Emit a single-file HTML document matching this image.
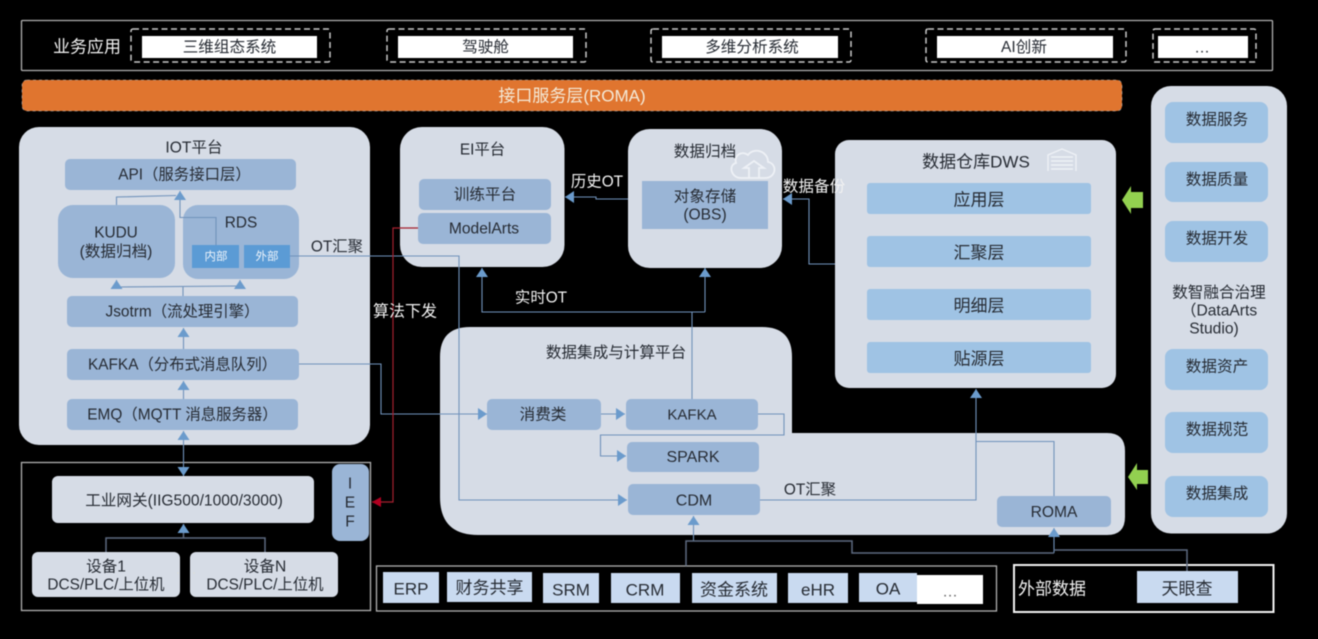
<!DOCTYPE html>
<html lang="zh">
<head>
<meta charset="utf-8">
<title>架构图</title>
<style>
html,body{margin:0;padding:0;background:#000;width:1318px;height:639px;overflow:hidden}
svg{display:block;filter:blur(.4px)}
text{font-family:"Liberation Sans","Noto Sans CJK SC",sans-serif;fill:#262b33;text-anchor:middle;dominant-baseline:central;transform:translateY(.8px)}
.p{fill:#d6dce6}
.b{fill:#9ab5d6}
.l{fill:#9fc3e4}
.w{fill:#fff}
.c{fill:#c9daf0}
.f{font-size:15.4px}
.s{font-size:15.6px}
.h{font-size:17px}
.t{font-size:11.5px;fill:#eef4fb}
.on{fill:#f2f2f2}
.ln{fill:none;stroke:#7092bb;stroke-width:1.1}
.dk{fill:none;stroke:#5d6a80;stroke-width:1.5}
.frame{fill:none;stroke:#b0b0b0;stroke-width:1.3}
.dash{fill:none;stroke:#c8c8c8;stroke-width:1.5;stroke-dasharray:6 3.5}
</style>
</head>
<body>
<svg width="1318" height="639" viewBox="0 0 1318 639" xmlns="http://www.w3.org/2000/svg">
<defs>
<marker id="a" markerUnits="userSpaceOnUse" markerWidth="12" markerHeight="14" refX="9" refY="6" orient="auto"><path d="M0 0L9 6L0 12Z" fill="#6b9bcc"/></marker>
<marker id="r" markerUnits="userSpaceOnUse" markerWidth="12" markerHeight="14" refX="9" refY="5" orient="auto"><path d="M0 0L9 5L0 10Z" fill="#b00020"/></marker>
</defs>
<rect width="1318" height="639" fill="#000"/>

<!-- 业务应用 -->
<rect class="frame" x="21.500" y="20.500" width="1251" height="50" rx="1"/>
<text x="87" y="46" class="on h">业务应用</text>
<rect class="dash" x="131" y="29" width="199" height="33" rx="2"/>
<rect class="w" x="142" y="36" width="175" height="22"/>
<text x="229.500" y="46.500" class="s">三维组态系统</text>
<rect class="dash" x="387" y="29" width="199" height="33" rx="2"/>
<rect class="w" x="398" y="36" width="175" height="22"/>
<text x="485.500" y="46.500" class="s">驾驶舱</text>
<rect class="dash" x="651" y="29" width="200" height="33" rx="2"/>
<rect class="w" x="662" y="36" width="176" height="22"/>
<text x="752" y="46.500" class="s">多维分析系统</text>
<rect class="dash" x="926" y="29" width="200" height="33" rx="2"/>
<rect class="w" x="937" y="36" width="176" height="22"/>
<text x="1024" y="46.500" class="s">AI创新</text>
<rect class="dash" x="1153" y="29" width="103" height="33" rx="2"/>
<rect class="w" x="1158" y="36" width="90" height="22"/>
<text x="1202" y="47" class="s">…</text>

<!-- ROMA bar -->
<rect x="22" y="80" width="1100" height="31" rx="5" fill="#e0752f"/>
<rect x="22" y="80" width="1100" height="31" rx="5" fill="none" stroke="#c9cdd2" stroke-width=".8" stroke-dasharray="3 3" opacity=".6"/>
<text x="572" y="95" class="h" style="fill:#f4ead8">接口服务层(ROMA)</text>

<!-- IOT -->
<rect class="p" x="19" y="127" width="351" height="318" rx="20"/>
<text x="194" y="147" class="s">IOT平台</text>
<rect class="b" x="65" y="159" width="231" height="31" rx="5"/>
<text x="184.500" y="174" class="f">API（服务接口层）</text>
<rect class="b" x="58" y="205" width="117" height="73" rx="15"/>
<text x="116" y="232" class="f">KUDU</text>
<text x="116" y="251" class="s">(数据归档)</text>
<rect class="b" x="183" y="205" width="116" height="74" rx="15"/>
<text x="241" y="222" class="f">RDS</text>
<rect x="192" y="245" width="47" height="23" fill="#5b9bd5"/>
<text x="216" y="256" class="t">内部</text>
<rect x="244" y="245" width="46" height="23" fill="#5b9bd5"/>
<text x="267" y="256" class="t">外部</text>
<rect class="b" x="67" y="296" width="231" height="31" rx="5"/>
<text x="182.500" y="311" class="f">Jsotrm（流处理引擎）</text>
<rect class="b" x="67" y="349" width="232" height="31" rx="5"/>
<text x="182.500" y="364" class="f">KAFKA（分布式消息队列）</text>
<rect class="b" x="67" y="399" width="231" height="31" rx="5"/>
<text x="182.500" y="414" class="f">EMQ（MQTT 消息服务器）</text>
<text x="337" y="246" class="f">OT汇聚</text>

<!-- EI -->
<rect class="p" x="400" y="127" width="164.500" height="140" rx="22"/>
<text x="482.500" y="149" class="f">EI平台</text>
<rect class="b" x="419" y="179" width="132" height="31" rx="5"/>
<text x="485" y="194" class="s">训练平台</text>
<rect class="b" x="418" y="213" width="133" height="31" rx="5"/>
<text x="484" y="228" class="s">ModelArts</text>

<!-- 数据归档 -->
<rect class="p" x="628" y="129" width="154" height="139" rx="22"/>
<text x="705" y="151" class="s">数据归档</text>
<rect class="b" x="642" y="181" width="126" height="48"/>
<text x="705" y="196" class="s">对象存储</text>
<text x="705" y="214" class="s">(OBS)</text>
<g fill="none" stroke="#eef1f6" stroke-width="1.8">
<path d="M741 178H765C776 178 778 164 768 162C768 151 754 147 748 155C741 150 734 156 736 163C728 165 731 178 741 178Z"/>
<path d="M749 178V168H744L754 161L764 168H759V178"/>
</g>

<!-- DWS -->
<rect class="p" x="835" y="140" width="281" height="248" rx="14"/>
<text x="976" y="161" class="h">数据仓库DWS</text>
<g fill="none" stroke="#eef1f6" stroke-width="1.400">
<path d="M1048 171V155L1062 149L1076 155V171"/>
<path d="M1051 157H1073M1051 161H1073M1051 165H1073M1051 169H1073"/>
</g>
<rect class="l" x="867" y="183" width="224" height="31" rx="3"/>
<text x="979" y="199" class="h">应用层</text>
<rect class="l" x="867" y="236" width="224" height="31" rx="3"/>
<text x="979" y="252" class="h">汇聚层</text>
<rect class="l" x="867" y="289" width="224" height="31" rx="3"/>
<text x="979" y="305" class="h">明细层</text>
<rect class="l" x="867" y="342" width="224" height="31" rx="3"/>
<text x="979" y="358" class="h">贴源层</text>

<!-- 治理 -->
<rect class="p" x="1151" y="86" width="136" height="447.500" rx="20"/>
<rect class="l" x="1165" y="102" width="103" height="41" rx="8"/>
<text x="1217" y="119" class="s">数据服务</text>
<rect class="l" x="1165" y="162" width="103" height="40" rx="8"/>
<text x="1217" y="179" class="s">数据质量</text>
<rect class="l" x="1165" y="221" width="103" height="41" rx="8"/>
<text x="1217" y="238" class="s">数据开发</text>
<text x="1219" y="292" class="s">数智融合治理</text>
<text x="1219" y="310" class="s">（DataArts</text>
<text x="1214" y="328" class="s">Studio)</text>
<rect class="l" x="1165" y="349" width="103" height="41" rx="8"/>
<text x="1217" y="366" class="s">数据资产</text>
<rect class="l" x="1165" y="412" width="103" height="41" rx="8"/>
<text x="1217" y="429" class="s">数据规范</text>
<rect class="l" x="1165" y="476" width="103" height="41" rx="8"/>
<text x="1217" y="493" class="s">数据集成</text>

<!-- 集成平台 -->
<path class="p" d="M470 327H762Q792 327 792 357V433H1107Q1125 433 1125 451V517Q1125 535 1107 535H478Q440 535 440 497V357Q440 327 470 327Z"/>
<text x="616" y="352" class="s">数据集成与计算平台</text>
<rect class="b" x="487" y="399" width="114" height="31" rx="5"/>
<text x="543" y="414" class="s">消费类</text>
<rect class="b" x="626" y="399" width="132" height="31" rx="5"/>
<text x="692" y="414" style="font-size:15px">KAFKA</text>
<rect class="b" x="627" y="442" width="132" height="30" rx="5"/>
<text x="693" y="456.500" style="font-size:16px">SPARK</text>
<rect class="b" x="628" y="484" width="132" height="31" rx="5"/>
<text x="694" y="500" style="font-size:16px">CDM</text>
<rect class="b" x="997" y="496" width="114" height="31" rx="5"/>
<text x="1054" y="511.500" class="s">ROMA</text>
<text x="810" y="489" class="f">OT汇聚</text>

<!-- 边缘 -->
<rect class="frame" x="21.500" y="462.500" width="349" height="148"/>
<rect class="p" x="52" y="476" width="262" height="47" rx="6"/>
<text x="184" y="500" class="s">工业网关(IIG500/1000/3000)</text>
<rect class="b" x="332" y="464" width="37" height="77" rx="8"/>
<text x="350" y="483" class="s">I</text>
<text x="350" y="502" class="s">E</text>
<text x="350" y="521" class="s">F</text>
<rect class="p" x="32" y="552" width="148" height="45" rx="6"/>
<text x="106" y="566" class="s">设备1</text>
<text x="106" y="584" class="f">DCS/PLC/上位机</text>
<rect class="p" x="190" y="552" width="148" height="45" rx="6"/>
<text x="265" y="566" class="s">设备N</text>
<text x="265" y="584" class="f">DCS/PLC/上位机</text>
<circle cx="178" cy="573" r="1" fill="#ddd"/>
<circle cx="194" cy="573" r="1" fill="#ddd"/>

<!-- 底部系统 -->
<rect class="frame" x="376.500" y="566" width="620" height="45"/>
<rect class="c" x="383" y="572" width="56" height="31"/>
<text x="411" y="588" class="h">ERP</text>
<rect class="c" x="447" y="572" width="85" height="30"/>
<text x="489.500" y="587" class="h">财务共享</text>
<rect class="c" x="543" y="573" width="56" height="30"/>
<text x="571" y="589" class="h">SRM</text>
<rect class="c" x="611" y="573" width="69" height="30"/>
<text x="645" y="589" class="h">CRM</text>
<rect class="c" x="692" y="573" width="85" height="30"/>
<text x="734" y="589" class="h">资金系统</text>
<rect class="c" x="788" y="573" width="60" height="30"/>
<text x="818" y="589" class="h">eHR</text>
<rect class="c" x="859" y="573" width="58" height="29"/>
<text x="888" y="588" class="h">OA</text>
<rect class="w" x="917" y="575" width="66" height="29"/>
<text x="950" y="591" class="s" style="fill:#666">…</text>

<rect x="1014" y="565" width="259.500" height="47" fill="none" stroke="#f2f2f2" stroke-width="2"/>
<text x="1052" y="588" class="on h">外部数据</text>
<rect class="c" x="1137" y="571" width="101" height="32"/>
<text x="1187" y="588" class="h">天眼查</text>

<!-- 连接线 -->
<path class="ln" d="M116.500 205V197L176 195.500"/>
<path class="ln" d="M216 245V217.500H180V191" marker-end="url(#a)"/>
<path class="ln" d="M183 296V287"/>
<path class="ln" d="M116.500 287L240 286"/>
<path class="ln" d="M116.500 287V280" marker-end="url(#a)"/>
<path class="ln" d="M240 286V280" marker-end="url(#a)"/>
<path class="ln" d="M183.500 349V328" marker-end="url(#a)"/>
<path class="ln" d="M183.500 399V381" marker-end="url(#a)"/>
<path class="ln" d="M183.500 462V431" marker-end="url(#a)"/>
<path class="ln" d="M183.500 462V476" marker-end="url(#a)"/>
<path class="ln" d="M290 256H459V500H627" marker-end="url(#a)"/>
<path class="ln" d="M299 364H381V414H487" marker-end="url(#a)"/>
<path class="ln" d="M601 414H625" marker-end="url(#a)"/>
<path class="ln" d="M758 414H784V435H600.500V456H626" marker-end="url(#a)"/>
<path class="ln" d="M692 399V312"/>
<path class="ln" d="M705 312H482V268" marker-end="url(#a)"/>
<path class="ln" d="M705 312V268" marker-end="url(#a)"/>
<path class="ln" d="M628 199H596V197H565" marker-end="url(#a)"/>
<path class="ln" d="M835 264H809V199H783" marker-end="url(#a)"/>
<path class="ln" d="M760 500H976V389" marker-end="url(#a)"/>
<path class="ln" d="M1054 496V441.500H976"/>
<path class="ln" d="M693.500 541V516" marker-end="url(#a)"/>
<path class="ln" d="M1054 553V528" marker-end="url(#a)"/>
<path class="dk" d="M686 566V541H852V553H1054"/>
<path class="dk" d="M1187 571V550H1054"/>
<path class="dk" d="M106 552V538H265V552"/>
<path class="dk" d="M183.500 538V524" marker-end="url(#a)"/>
<path d="M418 228H393V502H372" fill="none" stroke="#a5202f" stroke-width="1.2" marker-end="url(#r)"/>

<!-- 绿色箭头 -->
<path d="M1122 200L1131 186V192H1143V208H1131V214Z" fill="#92d050"/>
<path d="M1128 477L1137 463V470H1148V484H1137V490Z" fill="#92d050"/>

<!-- 黑底标签 -->
<text x="405" y="311" class="on" style="font-size:16px">算法下发</text>
<text x="597" y="181" class="f on">历史OT</text>
<text x="541" y="297" class="f on">实时OT</text>
<text x="814" y="186" class="s on">数据备份</text>
</svg>
</body>
</html>
